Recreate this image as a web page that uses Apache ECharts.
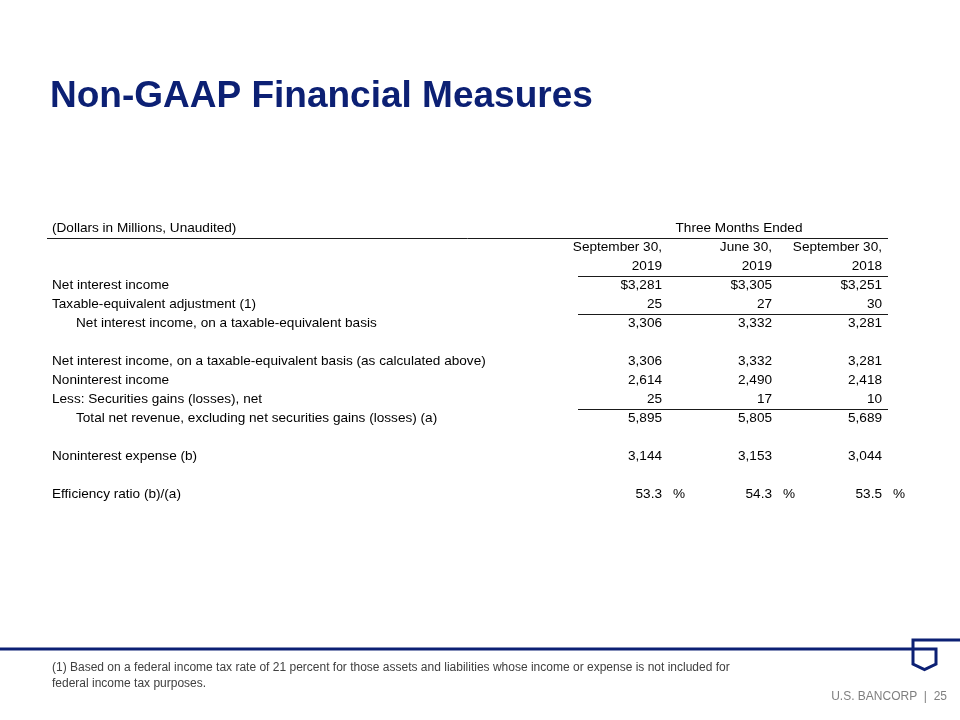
<!DOCTYPE html>
<html><head><meta charset="utf-8">
<script src="https://cdn.jsdelivr.net/npm/echarts@6.0.0/dist/echarts.min.js"></script>
<style>html,body{margin:0;padding:0;background:#fff}#c{width:960px;height:720px}</style>
</head><body><div id="c"></div>
<script>
// ---------- data ----------
const titleText = 'Non-GAAP Financial Measures';
const rowLabels = [
  '(Dollars in Millions, Unaudited)', '', '',
  'Net interest income',
  'Taxable-equivalent adjustment (1)',
  'Net interest income, on a taxable-equivalent basis',
  '',
  'Net interest income, on a taxable-equivalent basis (as calculated above)',
  'Noninterest income',
  'Less: Securities gains (losses), net',
  'Total net revenue, excluding net securities gains (losses) (a)',
  '',
  'Noninterest expense (b)',
  '',
  'Efficiency ratio (b)/(a)'
];
const rowIndent = [0,0,0,0,0,1,0,0,0,0,1,0,0,0,0];
const spanHeader = 'Three Months Ended';
const periodLine1 = ['September 30,', 'June 30,', 'September 30,'];
const periodLine2 = ['2019', '2019', '2018'];
const valueRows = [3, 4, 5, 7, 8, 9, 10, 12, 14];
const sep2019 = [3281, 25, 3306, 3306, 2614, 25, 5895, 3144, 53.3];
const jun2019 = [3305, 27, 3332, 3332, 2490, 17, 5805, 3153, 54.3];
const sep2018 = [3251, 30, 3281, 3281, 2418, 10, 5689, 3044, 53.5];
const dollarRows = [3];
const percentRows = [14];
const ruleAfterRows = [0, 2, 4, 9];
const footnoteLines = [
  '(1) Based on a federal income tax rate of 21 percent for those assets and liabilities whose income or expense is not included for',
  'federal income tax purposes.'
];
const footerText = 'U.S. BANCORP  |  25';

// ---------- layout / style ----------
const FONT = '"Liberation Sans", Arial, Helvetica, sans-serif';
const FS = 13.6;
const NAVY = '#0c2074';
const LABEL_X = 52;
const GRID_LEFT = 552;
const GRID_RIGHT = 78;
const ROW_H = 19;
const GRID_TOP = 219;

const columns = [sep2019, jun2019, sep2018];
function fmt(v, row) {
  if (percentRows.includes(row)) return v.toFixed(1);
  const s = v.toLocaleString('en-US');
  return dollarRows.includes(row) ? '$' + s : s;
}
const cells = [];
columns.forEach((col, c) => {
  cells.push({pos: [c + 1, 1], text: periodLine1[c], align: 'right'});
  cells.push({pos: [c + 1, 2], text: periodLine2[c], align: 'right'});
  col.forEach((v, k) => {
    const row = valueRows[k];
    cells.push({pos: [c + 1, row], text: fmt(v, row), align: 'right', pct: percentRows.includes(row)});
  });
});
cells.push({pos: [1.7, 0], text: spanHeader, align: 'center'});

const chart = echarts.init(document.getElementById('c'), null, {renderer: 'canvas'});
chart.setOption({
  backgroundColor: '#ffffff',
  animation: false,
  grid: {left: GRID_LEFT, right: GRID_RIGHT, top: GRID_TOP, height: ROW_H * rowLabels.length},
  xAxis: {type: 'value', min: 0, max: 3, show: false},
  yAxis: {
    type: 'category', inverse: true, data: rowLabels,
    axisLine: {show: false}, axisTick: {show: false}, splitLine: {show: false},
    axisLabel: {
      interval: 0, align: 'left', margin: GRID_LEFT - LABEL_X, verticalAlign: 'middle',
      fontSize: FS, fontFamily: FONT, color: '#000',
      formatter: (v, i) => rowIndent[i] ? '{ind|' + v + '}' : v,
      rich: {ind: {padding: [0, 0, 0, 24], fontSize: FS, fontFamily: FONT, color: '#000'}}
    }
  },
  graphic: [
    {type: 'text', x: 50, y: 97, style: {text: titleText, fill: NAVY, font: 'bold 37px ' + FONT, verticalAlign: 'middle'}},
    {type: 'polyline', shape: {points: [[0, 649], [936, 649], [936, 664], [924.5, 669.5], [913, 664], [913, 640], [960, 640]]},
      style: {stroke: NAVY, lineWidth: 3, fill: null}},
    {type: 'text', x: LABEL_X, y: 668, style: {text: footnoteLines[0], fill: '#404040', font: '12px ' + FONT, verticalAlign: 'middle'}},
    {type: 'text', x: LABEL_X, y: 684, style: {text: footnoteLines[1], fill: '#404040', font: '12px ' + FONT, verticalAlign: 'middle'}},
    {type: 'text', x: 947, y: 697, style: {text: footerText, fill: '#7f7f7f', font: '12px ' + FONT, align: 'right', verticalAlign: 'middle'}}
  ],
  series: [
    {
      type: 'custom', coordinateSystem: 'cartesian2d', silent: true,
      data: cells.map(c => c.pos),
      renderItem: (params, api) => {
        const cell = cells[params.dataIndex];
        const p = api.coord([api.value(0), api.value(1)]);
        const children = [{type: 'text', x: p[0], y: p[1],
          style: {text: cell.text, align: cell.align, verticalAlign: 'middle', fill: '#000', fontSize: FS, fontFamily: FONT}}];
        if (cell.pct) children.push({type: 'text', x: p[0] + 11, y: p[1],
          style: {text: '%', align: 'left', verticalAlign: 'middle', fill: '#000', fontSize: FS, fontFamily: FONT}});
        return {type: 'group', children};
      }
    },
    {
      type: 'custom', coordinateSystem: 'cartesian2d', silent: true,
      data: ruleAfterRows.map(r => [0, r]),
      renderItem: (params, api) => {
        const row = api.value(1);
        const p = api.coord([0, row]);
        const y = Math.floor(p[1] + api.size([0, 1])[1] / 2) + 0.5;
        const x1 = row === 0 ? LABEL_X - 5 : p[0] + 26;
        const x2 = api.coord([3, row])[0] + 6;
        return {type: 'line', shape: {x1, y1: y, x2, y2: y}, style: {stroke: '#1a1a1a', lineWidth: 1}};
      }
    }
  ]
});
</script></body></html>
